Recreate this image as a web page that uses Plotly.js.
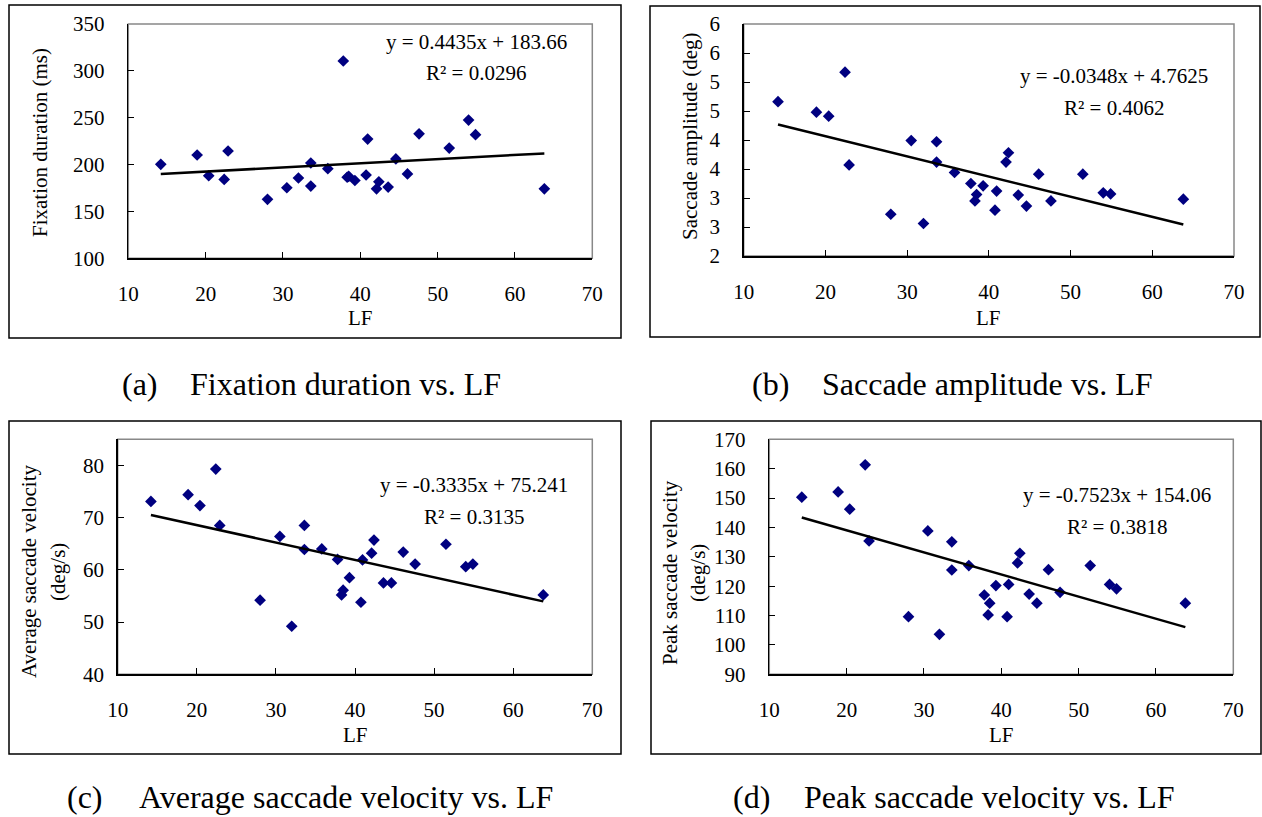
<!DOCTYPE html>
<html>
<head>
<meta charset="utf-8">
<script src="https://cdn.plot.ly/plotly-3.0.1.min.js"></script>
<style>html,body{margin:0;padding:0;background:#fff;}#chart{width:1262px;height:817px;}</style>
</head>
<body>
<div id="chart"></div>
<script>
// ---- Data ----
const LF = [14.2, 18.9, 20.4, 22.4, 22.9, 28.0, 30.5, 32.0, 33.6, 33.6, 35.8, 37.8, 38.3, 38.5, 39.3,
            40.75, 40.95, 42.1, 42.4, 43.6, 44.6, 46.1, 47.6, 51.5, 54.0, 54.9, 63.8];
const fixationDuration = [200.3, 210.2, 188.1, 184.2, 214.5, 162.9, 175.3, 185.7, 201.7, 177.1, 195.6, 310.5, 186.5, 187.5, 183.0,
            188.9, 227.2, 174.1, 181.7, 176.0, 206.0, 190.0, 232.8, 217.6, 247.5, 231.9, 174.1];
const saccadeAmplitude = [4.66, 4.48, 4.41, 5.17, 3.57, 2.72, 3.99, 2.56, 3.97, 3.62, 3.44, 3.25, 2.95, 3.06, 3.21,
            2.79, 3.12, 3.62, 3.78, 3.05, 2.86, 3.41, 2.95, 3.41, 3.09, 3.07, 2.98];
const avgSaccadeVelocity = [73.1, 74.4, 72.3, 79.3, 68.5, 54.2, 66.4, 49.2, 68.5, 63.9, 64.0, 62.0, 55.2, 56.1, 58.5,
            53.8, 61.9, 63.2, 65.7, 57.5, 57.5, 63.4, 61.1, 64.9, 60.6, 61.1, 55.2];
const peakSaccadeVelocity = [150.3, 152.1, 146.2, 161.3, 135.4, 109.6, 138.8, 103.6, 135.1, 125.5, 127.0, 117.0, 110.2, 114.2, 120.2,
            109.6, 120.6, 127.9, 131.2, 117.3, 114.2, 125.6, 117.9, 127.0, 120.6, 119.1, 114.2];

const trendSlopes = [0.4435, -0.0348, -0.3335, -0.7523];
const trendIntercepts = [183.66, 4.7625, 75.241, 154.06];
const equationTexts = ["y = 0.4435x + 183.66", "y = -0.0348x + 4.7625", "y = -0.3335x + 75.241", "y = -0.7523x + 154.06"];
const r2Texts = ["R² = 0.0296", "R² = 0.4062", "R² = 0.3135", "R² = 0.3818"];

const yTitleLines = [["Fixation duration (ms)"], ["Saccade amplitude (deg)"],
                     ["Average saccade velocity", "(deg/s)"], ["Peak saccade velocity", "(deg/s)"]];
const xTitle = "LF";
const captionLabels = ["(a)", "(b)", "(c)", "(d)"];
const captionTexts = ["Fixation duration vs. LF", "Saccade amplitude vs. LF", "Average saccade velocity vs. LF", "Peak saccade velocity vs. LF"];

const ampTickVals = [2, 2.5, 3, 3.5, 4, 4.5, 5, 5.5, 6];
const ampTickText = ["2", "3", "3", "4", "4", "5", "5", "6", "6"];

// ---- Layout geometry (pixels) ----
const W = 1262, H = 817;
const X = px => px / W;
const Y = py => 1 - py / H;
const FONT = "Liberation Serif, Times New Roman, serif";

const panels = [
  {ys: fixationDuration, plot: [128.3, 592.3, 24, 258.3], yrange: [100, 350], dtick: 50, ystand: 18,
   box: [9, 621, 5, 338], eq: [476, 42, 73], ytitleX: [40], ytitleY: 143, xtitleY: 318, cap: [120, 188, 384]},
  {ys: saccadeAmplitude, plot: [743.7, 1234, 24, 256], yrange: [2, 6], dtick: null, ystand: 18,
   box: [650, 1260, 6, 337], eq: [1114, 76, 108], ytitleX: [690], ytitleY: 136, xtitleY: 318, cap: [750, 820, 384]},
  {ys: avgSaccadeVelocity, plot: [117.7, 592.3, 439.3, 674.3], yrange: [40, 85], dtick: 10, ystand: 8,
   box: [9, 621, 421, 754], eq: [474, 485, 517], ytitleX: [29, 58], ytitleY: 572, xtitleY: 735, cap: [65, 137, 797]},
  {ys: peakSaccadeVelocity, plot: [769.3, 1233.3, 439.3, 674.3], yrange: [90, 170], dtick: 10, ystand: 18,
   box: [651, 1261, 421, 754], eq: [1117, 495, 527], ytitleX: [670, 698], ytitleY: 573, xtitleY: 735, cap: [731, 802, 797]}
];

const data = [];
const layout = {
  width: W, height: H,
  margin: {l: 0, r: 0, t: 0, b: 0},
  paper_bgcolor: "#fff", plot_bgcolor: "#fff",
  showlegend: false,
  font: {family: FONT, color: "#000", size: 21},
  shapes: [], annotations: []
};

const xmin = Math.min(...LF), xmax = Math.max(...LF);

panels.forEach((p, i) => {
  const n = i === 0 ? "" : String(i + 1);
  const xa = "x" + n, ya = "y" + n;
  data.push({
    type: "scatter", mode: "markers", x: LF, y: p.ys, xaxis: xa, yaxis: ya,
    marker: {symbol: "diamond", size: 9, color: "#000080"}, hoverinfo: "x+y"
  });
  data.push({
    type: "scatter", mode: "lines", x: [xmin, xmax],
    y: [trendSlopes[i] * xmin + trendIntercepts[i], trendSlopes[i] * xmax + trendIntercepts[i]],
    xaxis: xa, yaxis: ya, line: {color: "#000", width: 2.5}, hoverinfo: "skip"
  });
  const common = {
    ticks: "inside", ticklen: 6, tickwidth: 1, tickcolor: "#000",
    showline: true, linecolor: "#000", linewidth: 1.5,
    showgrid: false, zeroline: false, fixedrange: true,
    tickfont: {family: FONT, size: 21, color: "#000"}
  };
  layout["xaxis" + n] = Object.assign({}, common, {
    domain: [X(p.plot[0]), X(p.plot[1])], anchor: ya, range: [10, 70], dtick: 10, tick0: 10,
    ticklabelstandoff: 16
  });
  const yax = Object.assign({}, common, {
    domain: [Y(p.plot[3]), Y(p.plot[2])], anchor: xa, range: p.yrange,
    ticklabelstandoff: p.ystand
  });
  if (p.dtick) { yax.dtick = p.dtick; yax.tick0 = p.yrange[0]; }
  else { yax.tickmode = "array"; yax.tickvals = ampTickVals; yax.ticktext = ampTickText; }
  layout["yaxis" + n] = yax;

  // plot-area border (top/right grey)
  layout.shapes.push({type: "rect", xref: xa + " domain", yref: ya + " domain", x0: 0, x1: 1, y0: 0, y1: 1,
    line: {color: "#888", width: 1.5}, layer: "below"});
  // outer chart box
  layout.shapes.push({type: "rect", xref: "paper", yref: "paper",
    x0: X(p.box[0]), x1: X(p.box[1]), y0: Y(p.box[3]), y1: Y(p.box[2]),
    line: {color: "#000", width: 1.5}});

  const f21 = {family: FONT, size: 21, color: "#000"};
  // equation + R²
  layout.annotations.push({xref: "paper", yref: "paper", x: X(p.eq[0]), y: Y(p.eq[1]), text: equationTexts[i],
    showarrow: false, xanchor: "center", yanchor: "middle", font: f21});
  layout.annotations.push({xref: "paper", yref: "paper", x: X(p.eq[0]), y: Y(p.eq[2]), text: r2Texts[i],
    showarrow: false, xanchor: "center", yanchor: "middle", font: f21});
  // y-axis title lines
  yTitleLines[i].forEach((line, k) => {
    layout.annotations.push({xref: "paper", yref: "paper", x: X(p.ytitleX[k]), y: Y(p.ytitleY), text: line,
      textangle: -90, showarrow: false, xanchor: "center", yanchor: "middle", font: f21});
  });
  // x-axis title
  layout.annotations.push({xref: "paper", yref: "paper", x: X((p.plot[0] + p.plot[1]) / 2), y: Y(p.xtitleY), text: xTitle,
    showarrow: false, xanchor: "center", yanchor: "middle", font: f21});
  // captions
  const f32 = {family: FONT, size: 32, color: "#000"};
  layout.annotations.push({xref: "paper", yref: "paper", x: X(p.cap[0]), y: Y(p.cap[2]), text: captionLabels[i],
    showarrow: false, xanchor: "left", yanchor: "middle", font: f32});
  layout.annotations.push({xref: "paper", yref: "paper", x: X(p.cap[1]), y: Y(p.cap[2]), text: captionTexts[i],
    showarrow: false, xanchor: "left", yanchor: "middle", font: f32});
});

Plotly.newPlot("chart", data, layout, {staticPlot: true, displayModeBar: false});
</script>
</body>
</html>
